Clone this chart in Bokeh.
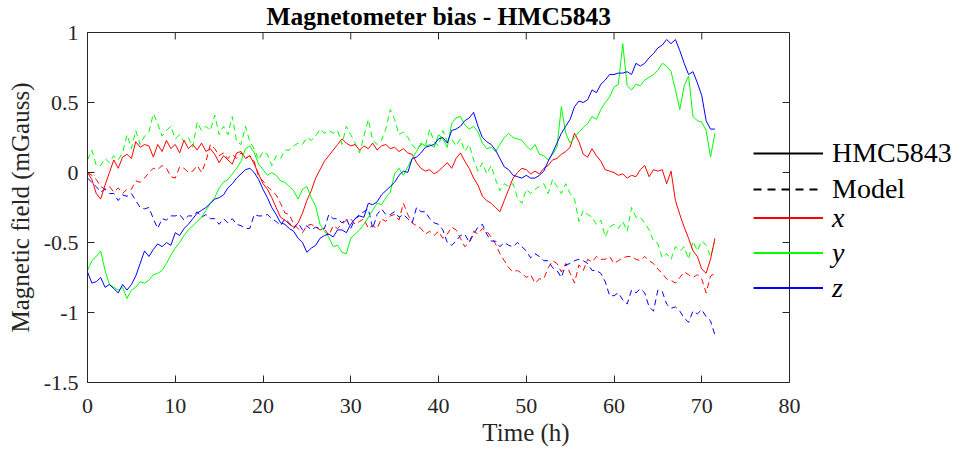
import math
from bokeh.plotting import figure
from bokeh.models import (Range1d, FixedTicker, CustomJSTickFormatter, Legend, LegendItem,
                          LinearAxis, Span)
from bokeh.embed import file_html
from bokeh.resources import INLINE

# time grid (hours), sampled every half hour
hours = [i * 0.5 for i in range(144)]

x_hmc = [
    0.0, -0.05, -0.15, -0.19, -0.09, 0.0, 0.09, 0.03, 0.11, 0.13,
    0.1, 0.22, 0.18, 0.2, 0.19, 0.11, 0.2, 0.15, 0.23, 0.17,
    0.2, 0.14, 0.23, 0.17, 0.2, 0.16, 0.21, 0.15, 0.17, 0.13,
    0.07, 0.12, 0.09, 0.06, 0.14, 0.15, 0.1, 0.12, 0.06, -0.01,
    -0.08, -0.12, -0.18, -0.25, -0.32, -0.34, -0.37, -0.39, -0.36, -0.29,
    -0.2, -0.13, -0.04, 0.02, 0.08, 0.12, 0.16, 0.2, 0.24, 0.21,
    0.19, 0.2, 0.16, 0.19, 0.17, 0.21, 0.16, 0.19, 0.2, 0.17,
    0.18, 0.15, 0.17, 0.14, 0.13, 0.07, 0.03, 0.01, 0.02, -0.01,
    0.01, 0.04, 0.07, 0.03, 0.1, 0.14, 0.08, 0.03, -0.04, -0.09,
    -0.17, -0.2, -0.22, -0.25, -0.28, -0.2, -0.12, -0.04, 0.0, 0.03,
    0.02, -0.01, 0.01, -0.01, 0.03, 0.05, 0.09, 0.1, 0.13, 0.15,
    0.18, 0.28, 0.22, 0.13, 0.11, 0.17, 0.12, 0.08, 0.02, 0.01,
    0.0, -0.02, -0.01, -0.04, -0.02, -0.03, 0.02, 0.05, -0.03, 0.02,
    0.01, 0.02, -0.08, 0.01, -0.2, -0.3, -0.39, -0.47, -0.56, -0.6,
    -0.69, -0.72, -0.62, -0.47,
]

y_hmc = [
    -0.7, -0.63, -0.6, -0.56, -0.7, -0.8, -0.82, -0.84, -0.82, -0.9,
    -0.84, -0.82, -0.78, -0.79, -0.77, -0.73, -0.72, -0.7, -0.65, -0.59,
    -0.54, -0.5, -0.45, -0.41, -0.38, -0.35, -0.32, -0.27, -0.22, -0.18,
    -0.11, -0.07, -0.05, -0.01, 0.03, 0.08, 0.17, 0.19, 0.14, 0.06,
    0.02, -0.02, 0.0, -0.02, -0.06, -0.07, -0.1, -0.13, -0.19, -0.12,
    -0.1, -0.18, -0.24, -0.37, -0.42, -0.46, -0.53, -0.52, -0.57, -0.58,
    -0.47, -0.44, -0.41, -0.37, -0.32, -0.27, -0.22, -0.23, -0.18, -0.14,
    -0.01, 0.03, -0.02, 0.04, 0.1, 0.15, 0.21, 0.19, 0.2, 0.18,
    0.27, 0.24, 0.18, 0.35, 0.39, 0.4, 0.34, 0.31, 0.33, 0.29,
    0.21, 0.17, 0.18, 0.15, 0.2, 0.25, 0.28, 0.25, 0.24, 0.23,
    0.19, 0.16, 0.2, 0.13, 0.12, 0.09, 0.13, 0.18, 0.47, 0.28,
    0.21, 0.25, 0.29, 0.32, 0.35, 0.4, 0.38, 0.45, 0.5, 0.54,
    0.61, 0.63, 0.92, 0.62, 0.59, 0.63, 0.62, 0.66, 0.68, 0.7,
    0.73, 0.78, 0.76, 0.72, 0.59, 0.45, 0.62, 0.69, 0.4, 0.37,
    0.36, 0.3, 0.11, 0.28,
]

z_hmc = [
    -0.71, -0.79, -0.78, -0.75, -0.82, -0.8, -0.83, -0.86, -0.8, -0.84,
    -0.8, -0.74, -0.65, -0.56, -0.6, -0.55, -0.51, -0.53, -0.5, -0.52,
    -0.43, -0.45, -0.4, -0.37, -0.33, -0.29, -0.27, -0.25, -0.22, -0.19,
    -0.18, -0.16, -0.11, -0.08, -0.04, -0.01, 0.02, 0.03, 0.0, -0.05,
    -0.12, -0.18, -0.25, -0.3, -0.36, -0.37, -0.4, -0.42, -0.47, -0.5,
    -0.57, -0.54, -0.52, -0.47, -0.45, -0.44, -0.46, -0.41, -0.41, -0.43,
    -0.37, -0.33, -0.31, -0.32, -0.22, -0.23, -0.21, -0.16, -0.13, -0.1,
    -0.07, -0.02, 0.01, 0.0, 0.1, 0.11, 0.14, 0.18, 0.19, 0.2,
    0.24, 0.25, 0.21, 0.3, 0.31, 0.33, 0.37, 0.39, 0.43, 0.33,
    0.25, 0.22, 0.2, 0.16, 0.1, 0.04, 0.02, -0.02, -0.03, -0.04,
    -0.02, -0.04, -0.04, -0.02, 0.01, 0.08, 0.14, 0.21, 0.28, 0.33,
    0.38, 0.47, 0.51, 0.5, 0.52, 0.59, 0.57, 0.63, 0.66, 0.7,
    0.7, 0.71, 0.71, 0.72, 0.7, 0.78, 0.76, 0.78, 0.82, 0.85,
    0.89, 0.91, 0.95, 0.92, 0.95, 0.87, 0.78, 0.7, 0.72, 0.64,
    0.55, 0.37, 0.31, 0.31,
]

x_model = [
    0.0, -0.02, -0.05, -0.1, -0.12, -0.1, -0.14, -0.11, -0.15, -0.12,
    -0.12, -0.06, -0.07, -0.04, 0.0, 0.03, 0.02, 0.05, 0.03, -0.03,
    -0.04, 0.04, 0.03, 0.0, 0.01, 0.05, 0.0, 0.08, 0.2, 0.17,
    0.12, 0.14, 0.1, 0.13, 0.1, 0.14, 0.1, 0.12, 0.08, -0.03,
    -0.06, -0.1, -0.13, -0.16, -0.22, -0.29, -0.3, -0.37, -0.4, -0.43,
    -0.38, -0.37, -0.39, -0.41, -0.4, -0.45, -0.38, -0.4, -0.37, -0.34,
    -0.33, -0.37, -0.35, -0.33, -0.4, -0.38, -0.4, -0.33, -0.35, -0.31,
    -0.3, -0.34, -0.22, -0.3, -0.36, -0.38, -0.4, -0.44, -0.42, -0.45,
    -0.42, -0.47, -0.44, -0.39, -0.41, -0.47, -0.53, -0.5, -0.42, -0.44,
    -0.4, -0.42, -0.46, -0.51, -0.58, -0.63, -0.68, -0.71, -0.7, -0.72,
    -0.75, -0.73, -0.79, -0.76, -0.76, -0.68, -0.63, -0.65, -0.71, -0.65,
    -0.72, -0.79, -0.66, -0.7, -0.62, -0.64, -0.6, -0.62, -0.62, -0.6,
    -0.65, -0.63, -0.61, -0.6, -0.6, -0.62, -0.63, -0.6, -0.63, -0.65,
    -0.69, -0.72, -0.76, -0.77, -0.79, -0.75, -0.71, -0.73, -0.75, -0.73,
    -0.76, -0.86, -0.74, -0.72,
]

y_model = [
    0.09, 0.16, 0.05, 0.05, 0.1, 0.07, 0.12, 0.09, 0.14, 0.27,
    0.17, 0.3, 0.2, 0.26, 0.29, 0.42, 0.35, 0.26, 0.3, 0.33,
    0.24, 0.27, 0.22, 0.25, 0.18, 0.36, 0.3, 0.33, 0.3, 0.41,
    0.27, 0.33, 0.27, 0.4, 0.22, 0.2, 0.33, 0.22, 0.17, 0.09,
    0.15, 0.13, 0.05, 0.12, 0.1, 0.16, 0.16, 0.19, 0.21, 0.2,
    0.25, 0.23, 0.26, 0.31, 0.28, 0.3, 0.28, 0.3, 0.2, 0.33,
    0.27, 0.21, 0.14, 0.26, 0.38, 0.23, 0.2, 0.23, 0.31, 0.45,
    0.38, 0.27, 0.29, 0.25, 0.2, 0.16, 0.2, 0.19, 0.31, 0.22,
    0.19, 0.3, 0.22, 0.24, 0.19, 0.24, 0.15, 0.2, 0.09, 0.01,
    0.07, -0.01, 0.05, -0.05, -0.13, -0.08, -0.1, -0.08, -0.18, -0.22,
    -0.12, -0.15, -0.12, -0.1, -0.08, -0.15, -0.05, -0.1, -0.15, -0.08,
    -0.15, -0.19, -0.35, -0.27, -0.3, -0.32, -0.37, -0.34, -0.46, -0.39,
    -0.37, -0.4, -0.35, -0.42, -0.25, -0.32, -0.32, -0.36, -0.41, -0.49,
    -0.51, -0.61, -0.58, -0.62, -0.53, -0.56, -0.53, -0.62, -0.49, -0.56,
    -0.49, -0.52, -0.6, -0.5,
]

z_model = [
    -0.04, -0.07, -0.1, -0.14, -0.12, -0.15, -0.15, -0.2, -0.16, -0.17,
    -0.15, -0.2, -0.25, -0.26, -0.25, -0.33, -0.4, -0.33, -0.34, -0.31,
    -0.31, -0.3, -0.34, -0.31, -0.31, -0.28, -0.32, -0.3, -0.33, -0.33,
    -0.37, -0.33, -0.36, -0.33, -0.37, -0.38, -0.4, -0.4, -0.3, -0.31,
    -0.31, -0.3, -0.33, -0.35, -0.38, -0.33, -0.36, -0.4, -0.36, -0.41,
    -0.38, -0.41, -0.39, -0.4, -0.4, -0.3, -0.33, -0.33, -0.36, -0.33,
    -0.4, -0.33, -0.3, -0.28, -0.26, -0.4, -0.3, -0.26, -0.3, -0.3,
    -0.28, -0.32, -0.3, -0.33, -0.36, -0.25, -0.28, -0.28, -0.33, -0.36,
    -0.37, -0.41, -0.5, -0.52, -0.49, -0.45, -0.44, -0.5, -0.44, -0.39,
    -0.37, -0.44, -0.49, -0.49, -0.53, -0.5, -0.52, -0.53, -0.5, -0.53,
    -0.56, -0.61, -0.58, -0.6, -0.63, -0.63, -0.68, -0.7, -0.75, -0.66,
    -0.65, -0.63, -0.62, -0.63, -0.65, -0.7, -0.7, -0.72, -0.78, -0.88,
    -0.88, -0.86, -0.91, -0.94, -0.84, -0.86, -0.83, -0.86, -0.96, -0.99,
    -0.84, -0.85, -0.94, -0.97, -0.96, -0.99, -1.04, -1.07, -0.99, -1.01,
    -0.98, -1.03, -1.06, -1.16,
]

x_limits = (0, 80)
y_limits = (-1.5, 1)
x_ticks = [0, 10, 20, 30, 40, 50, 60, 70, 80]
y_ticks = [-1.5, -1, -0.5, 0, 0.5, 1]

FONT = "Liberation Serif"
AX = "#262626"

# layout (pixels): the axes box is 702 px wide; the frame runs on to the right edge
W, H = 964, 450
LEFT, TOP, BOTTOM = 87, 32, 68
BOX_W = 702
frame_w = W - LEFT
x_view_end = x_limits[0] + (x_limits[1] - x_limits[0]) * frame_w / BOX_W

p = figure(width=W, height=H, output_backend="svg", toolbar_location=None,
           x_range=Range1d(x_limits[0], x_view_end), y_range=Range1d(*y_limits),
           min_border_left=LEFT, min_border_right=0, min_border_top=TOP,
           min_border_bottom=BOTTOM, title="Magnetometer bias - HMC5843")
p.grid.visible = False
p.outline_line_color = None
p.background_fill_color = "white"
p.border_fill_color = "white"

p.title.text_font = FONT
p.title.text_font_size = "25.5px"
p.title.text_font_style = "bold"
p.title.align = "left"
p.title.offset = 179
p.title.text_color = "black"
p.title.standoff = 0
p.title.vertical_align = "top"

fmt = CustomJSTickFormatter(code="return tick.toString();")
for ax, ticks in ((p.xaxis[0], x_ticks), (p.yaxis[0], y_ticks)):
    ax.ticker = FixedTicker(ticks=ticks)
    ax.formatter = fmt
    ax.major_tick_in = 7
    ax.major_tick_out = 0
    ax.minor_tick_line_color = None
    ax.axis_line_color = AX
    ax.major_tick_line_color = AX
    ax.major_label_text_font = FONT
    ax.major_label_text_font_size = "22px"
    ax.major_label_text_color = AX
    ax.axis_label_text_font = FONT
    ax.axis_label_text_font_size = "25px"
    ax.axis_label_text_font_style = "normal"
    ax.axis_label_text_color = AX

p.xaxis[0].bounds = x_limits
p.xaxis[0].axis_label = "Time (h)"
p.xaxis[0].major_label_standoff = 16
p.xaxis[0].axis_label_standoff = 3
p.yaxis[0].axis_label = "Magnetic field (mGauss)"
p.yaxis[0].major_label_standoff = 9
p.yaxis[0].axis_label_standoff = 7

# top edge of the box: an axis with no ticks, limited to the box
top_edge = LinearAxis(ticker=FixedTicker(ticks=[]), bounds=x_limits, axis_line_color=AX,
                      major_tick_in=0, major_tick_out=0, minor_tick_line_color=None,
                      major_label_standoff=0)
p.add_layout(top_edge, "above")
# right edge of the box
p.add_layout(Span(location=x_limits[1], dimension="height", line_color=AX, line_width=1))
# inward ticks on the top and right edges
p.ray(x=x_ticks, y=[y_limits[1]] * len(x_ticks), length=7, length_units="screen",
      angle=-math.pi / 2, line_color=AX, line_width=1)
p.ray(x=[x_limits[1]] * len(y_ticks), y=y_ticks, length=7, length_units="screen",
      angle=math.pi, line_color=AX, line_width=1)

RED, GREEN, BLUE = "#ff0000", "#00ff00", "#0000ff"
DASH = "6 4"
p.line(hours, x_model, line_color=RED, line_width=1, line_dash=DASH)
p.line(hours, y_model, line_color=GREEN, line_width=1, line_dash=DASH)
p.line(hours, z_model, line_color=BLUE, line_width=1, line_dash=DASH)
p.line(hours, x_hmc, line_color=RED, line_width=1)
p.line(hours, y_hmc, line_color=GREEN, line_width=1)
p.line(hours, z_hmc, line_color=BLUE, line_width=1)

# legend proxies (a single NaN point: nothing drawn in the plot)
nan = [math.nan]
k_solid = p.line(x=nan, y=nan, line_color="black", line_width=2)
k_dash = p.line(x=nan, y=nan, line_color="black", line_width=2, line_dash="8 6")
r_key = p.line(x=nan, y=nan, line_color=RED, line_width=2)
g_key = p.line(x=nan, y=nan, line_color=GREEN, line_width=2)
b_key = p.line(x=nan, y=nan, line_color=BLUE, line_width=2)

common = dict(glyph_width=70, label_standoff=9, spacing=0, padding=0, margin=0,
              border_line_color=None, background_fill_alpha=0,
              label_text_font=FONT, label_text_font_size="28px", label_text_color="black")
leg1 = Legend(items=[LegendItem(label="HMC5843", renderers=[k_solid]),
                     LegendItem(label="Model", renderers=[k_dash])],
              location=(666, 175), glyph_height=36, label_height=36, **common)
leg2 = Legend(items=[LegendItem(label="x", renderers=[r_key]),
                     LegendItem(label="y", renderers=[g_key]),
                     LegendItem(label="z", renderers=[b_key])],
              location=(666, 77), glyph_height=35, label_height=35,
              label_text_font_style="italic", **common)
p.add_layout(leg1)
p.add_layout(leg2)

open("out.html", "w").write(file_html(p, INLINE))
